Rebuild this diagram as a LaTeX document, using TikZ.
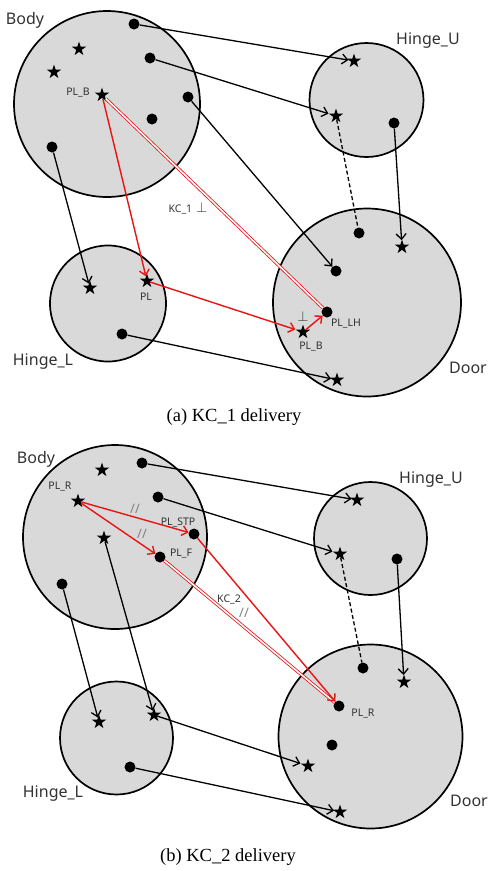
\documentclass[tikz,border=0pt]{standalone}
\usepackage{fontspec}
\setmainfont{Liberation Serif}
\newfontfamily\labfont{Noto Sans}
\usetikzlibrary{shapes.geometric,arrows.meta}
\definecolor{partfill}{RGB}{217,217,217}
\definecolor{kcred}{RGB}{232,20,20}
\definecolor{labgray}{RGB}{50,50,50}
\begin{document}
\begin{tikzpicture}[x=1pt,y=-1pt,
  part/.style={circle,draw=black,line width=1.7pt,fill=partfill,inner sep=0pt},
  dotnode/.style={circle,fill=black,inner sep=0pt,minimum size=11pt},
  starnode/.style={star,star points=5,star point ratio=2.618,fill=black,inner sep=0pt,minimum size=15pt},
  partlab/.style={font=\labfont\fontsize{16}{18}\selectfont,text=labgray,inner sep=0pt},
  smalllab/.style={font=\labfont\fontsize{10.5}{12}\selectfont,text=labgray,inner sep=0pt},
  marklab/.style={font=\labfont\fontsize{13}{14}\selectfont,text=gray,inner sep=0pt},
  caplab/.style={font=\fontsize{18.5}{21}\selectfont,inner sep=0pt},
  conn/.style={line width=1.3pt,-{Straight Barb[length=5.5pt,width=10pt]}},
  dashconn/.style={line width=1.3pt,dash pattern=on 4pt off 2.5pt},
  rconn/.style={kcred,line width=1.4pt,-{Straight Barb[length=5.5pt,width=10pt]}},
  kcline/.style={draw=kcred,double=white,line width=0.8pt,double distance=1.6pt}
]
\useasboundingbox (0,0) rectangle (497,871);

% ================= (a) =================
\node[part,minimum size=186pt] (aBody) at (107,104) {};
\node[part,minimum size=114pt] (aHU) at (366.5,100) {};
\node[part,minimum size=116pt] (aHL) at (108,303.5) {};
\node[part,minimum size=188pt] (aDoor) at (367,302.5) {};

\node[partlab] (aBodyL) at (25,20) {Body};
\node[partlab] (aHUL) at (428,41) {Hinge\_U};
\node[partlab] (aHLL) at (43,362) {Hinge\_L};
\node[partlab] (aDoorL) at (468,368) {Door};

\node[dotnode] (aD1) at (134,24) {};
\node[dotnode] (aD2) at (150,58) {};
\node[dotnode] (aD3) at (188,97) {};
\node[dotnode] (aD4) at (152,119) {};
\node[dotnode] (aD5) at (52,147) {};
\node[dotnode] (aD6) at (394,123) {};
\node[dotnode] (aD7) at (122,334) {};
\node[dotnode] (aD8) at (359,233) {};
\node[dotnode] (aD9) at (336,271) {};
\node[dotnode] (aPLLH) at (327,312) {};

\node[starnode] (aS1) at (79,49) {};
\node[starnode] (aS2) at (54,72) {};
\node[starnode] (aPLB) at (102,95) {};
\node[starnode] (aS3) at (354,61) {};
\node[starnode] (aS4) at (336,116) {};
\node[starnode] (aS5) at (90,288) {};
\node[starnode] (aPL) at (147,281) {};
\node[starnode] (aS6) at (402,247) {};
\node[starnode] (aPLBd) at (303,332) {};
\node[starnode] (aS7) at (337,380) {};

\node[smalllab] (aPLBL) at (78,93) {PL\_B};
\node[smalllab] (aPLL) at (146,297) {PL};
\node[smalllab] (aPLLHL) at (346,324) {PL\_LH};
\node[smalllab] (aPLBdL) at (311,347) {PL\_B};
\node[smalllab] (aPerp) at (303,316) {\fontsize{15}{15}\selectfont$\perp$};
\node[smalllab] (aKC) at (188,208) {KC\_1\hspace{4pt}{\fontsize{15}{15}\selectfont$\perp$}};

\draw[conn] (aD1) -- (aS3);
\draw[conn] (aD2) -- (aS4);
\draw[conn] (aD3) -- (aD9);
\draw[conn] (aD5) -- (aS5);
\draw[dashconn] (aS4) -- (aD8);
\draw[conn] (aD6) -- (aS6);
\draw[conn] (aD7) -- (aS7);
\draw[kcline] (aPLB) -- (aPLLH);
\draw[rconn] (aPLB) -- (aPL);
\draw[rconn] (aPL) -- (aPLBd);
\draw[rconn] (aPLBd) -- (aPLLH);

\node[caplab] (aCap) at (234,417) {(a) KC\_1 delivery};

% ================= (b) =================
\node[part,minimum size=184pt] (bBody) at (115,537) {};
\node[part,minimum size=113pt] (bHU) at (370.5,538.5) {};
\node[part,minimum size=113pt] (bHL) at (116.5,738) {};
\node[part,minimum size=184pt] (bDoor) at (370.5,736.5) {};

\node[partlab] (bBodyL) at (36,459) {Body};
\node[partlab] (bHUL) at (431,480) {Hinge\_U};
\node[partlab] (bHLL) at (53,794) {Hinge\_L};
\node[partlab] (bDoorL) at (469,801) {Door};

\node[dotnode] (bD1) at (142,463) {};
\node[dotnode] (bD2) at (158,497) {};
\node[dotnode] (bPLSTP) at (194,534) {};
\node[dotnode] (bPLF) at (160,557) {};
\node[dotnode] (bD3) at (62,584) {};
\node[dotnode] (bD4) at (397,559) {};
\node[dotnode] (bD5) at (130,767) {};
\node[dotnode] (bD6) at (363,668) {};
\node[dotnode] (bPLR) at (339,706) {};
\node[dotnode] (bD7) at (332,745) {};

\node[starnode] (bS1) at (102,470) {};
\node[starnode] (bPLRs) at (78,501) {};
\node[starnode] (bS2) at (104,538) {};
\node[starnode] (bS3) at (357,500) {};
\node[starnode] (bS4) at (340,554) {};
\node[starnode] (bS5) at (99,722) {};
\node[starnode] (bS6) at (154,715) {};
\node[starnode] (bS7) at (404,682) {};
\node[starnode] (bS8) at (308,766) {};
\node[starnode] (bS9) at (340,812) {};

\node[smalllab] (bPLRL) at (60,487) {PL\_R};
\node[smalllab] (bPLSTPL) at (178,522) {PL\_STP};
\node[smalllab] (bPLFL) at (181,554) {PL\_F};
\node[smalllab] (bPLRdL) at (363,714) {PL\_R};
\node[smalllab] (bKC) at (229,599) {KC\_2};
\node[marklab] (bM1) at (135,509) {//};
\node[marklab] (bM2) at (142,534) {//};
\node[marklab] (bM3) at (244,613) {//};

\draw[conn] (bD1) -- (bS3);
\draw[conn] (bD2) -- (bS4);
\draw[conn] (bS2) -- (bS6);
\draw[conn] (bD3) -- (bS5);
\draw[conn] (bS6) -- (bS8);
\draw[conn] (bD5) -- (bS9);
\draw[dashconn] (bS4) -- (bD6);
\draw[conn] (bD4) -- (bS7);
\draw[kcline] (bPLF) -- (bPLR);
\draw[rconn] (bPLRs) -- (bPLSTP);
\draw[rconn] (bPLRs) -- (bPLF);
\draw[rconn] (bPLSTP) -- (bPLR);

\node[caplab] (bCap) at (228,857) {(b) KC\_2 delivery};
\end{tikzpicture}
\end{document}
